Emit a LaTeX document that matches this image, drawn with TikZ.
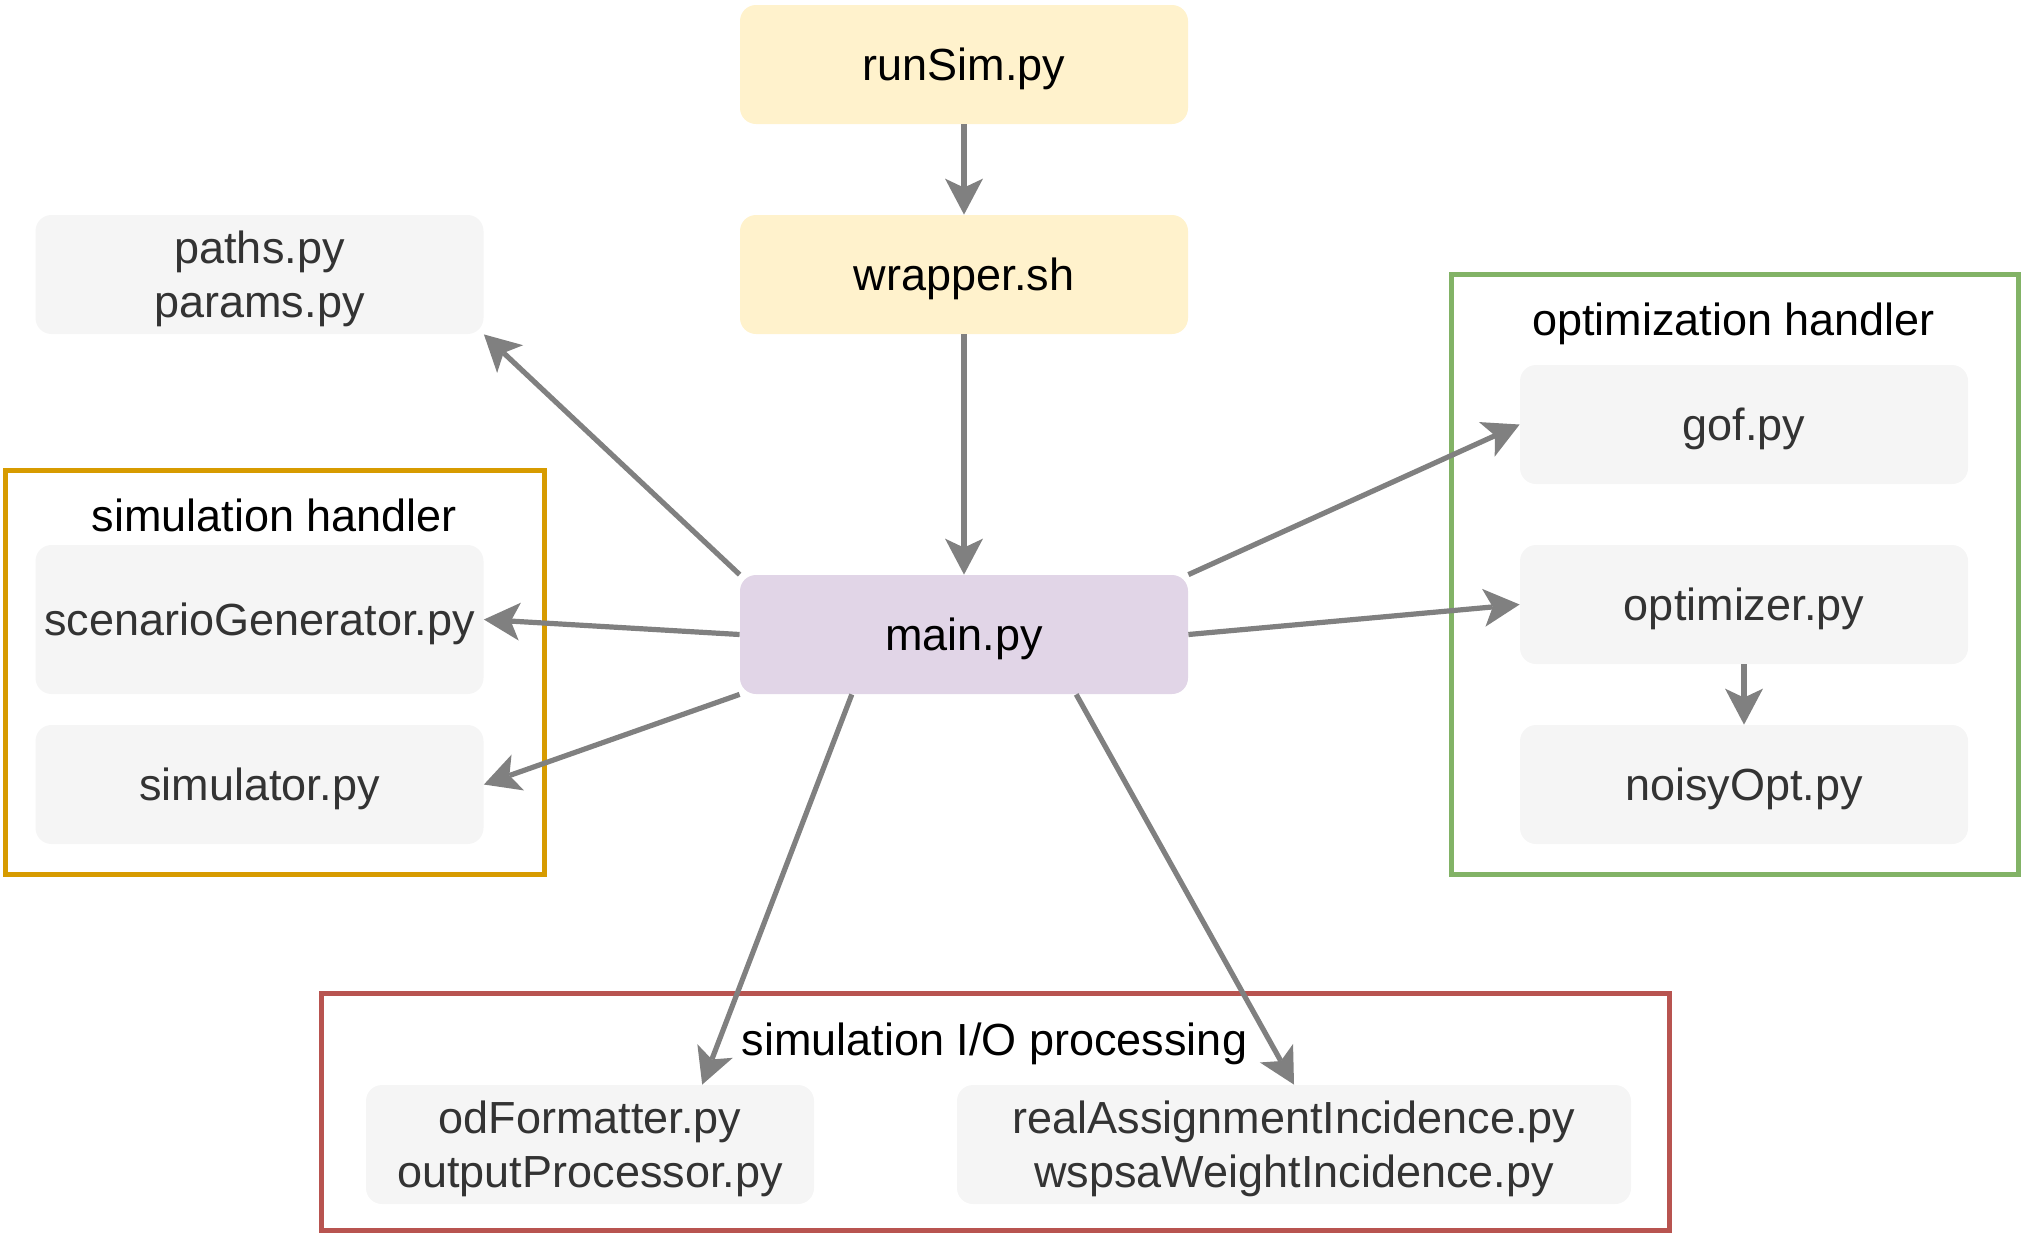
\documentclass[tikz,border=0pt]{standalone}
\usepackage{fontspec}
\setmainfont{Liberation Sans}
\usetikzlibrary{arrows.meta,calc}
\definecolor{yel}{HTML}{FFF2CC}
\definecolor{pur}{HTML}{E1D5E7}
\definecolor{gry}{HTML}{F5F5F5}
\definecolor{txtg}{HTML}{333333}
\definecolor{arrc}{HTML}{808080}
\definecolor{orng}{HTML}{D79B00}
\definecolor{grn}{HTML}{82B366}
\definecolor{redc}{HTML}{B85450}
\begin{document}
\begin{tikzpicture}[x=0.5pt,y=-0.5pt,
  every node/.style={font=\fontsize{22.5pt}{27pt}\selectfont},
  lbl/.style={inner sep=0pt, align=center, yshift=-2pt},
  filebox/.style={rounded corners=8pt, inner sep=0pt, minimum width=224pt, minimum height=59.5pt},
  ybox/.style={filebox, fill=yel, label={[lbl, text=black]center:#1}},
  pbox/.style={filebox, fill=pur, label={[lbl, text=black]center:#1}},
  gbox/.style={filebox, fill=gry, label={[lbl, text=txtg]center:#1}},
  frame/.style={line width=2.5pt},
  ttl/.style={text=black, inner sep=0pt},
  arr/.style={draw=arrc, line width=2.6pt, -{Stealth[length=18pt,width=19pt,inset=4.5pt,line width=0pt]}}
]
\useasboundingbox (0,0) rectangle (2022,1233);
% frames
\draw[frame, draw=orng] (5.5,470) rectangle (544,874.5);
\draw[frame, draw=grn] (1451,274.5) rectangle (2018,874.5);
\draw[frame, draw=redc] (321,993) rectangle (1669.5,1230);
\node[ttl] (tsim) at (274.5,515) {simulation handler};
\node[ttl] (topt) at (1733.5,324) {optimization handler};
\node[ttl] (tio) at (994.5,1044) {simulation I/O processing};
% nodes
\node[ybox={runSim.py}] (runsim) at (964,64.5) {};
\node[ybox={wrapper.sh}] (wrap) at (964,274.5) {};
\node[gbox={paths.py\\params.py}] (paths) at (259.5,274.5) {};
\node[pbox={main.py}] (main) at (964,634.5) {};
\node[gbox={scenarioGenerator.py}, minimum height=74.5pt] (scen) at (259.5,619.5) {};
\node[gbox={simulator.py}] (simr) at (259.5,784.5) {};
\node[gbox={gof.py}] (gof) at (1744,424.5) {};
\node[gbox={optimizer.py}] (opt) at (1744,604.5) {};
\node[gbox={noisyOpt.py}] (noisy) at (1744,784.5) {};
\node[gbox={odFormatter.py\\outputProcessor.py}] (odf) at (590,1144.5) {};
\node[gbox={realAssignmentIncidence.py\\wspsaWeightIncidence.py}, minimum width=337pt] (real) at (1294,1144.5) {};
% connectors
\draw[arr] (runsim.south) -- (wrap.north);
\draw[arr] (wrap.south) -- (main.north);
\draw[arr] (main.north west) -- (paths.south east);
\draw[arr] (main.west) -- (scen.east);
\draw[arr] (main.south west) -- (simr.east);
\draw[arr] ($(main.south west)!0.25!(main.south east)$) -- ($(odf.north west)!0.75!(odf.north east)$);
\draw[arr] ($(main.south west)!0.75!(main.south east)$) -- (real.north);
\draw[arr] (main.north east) -- (gof.west);
\draw[arr] (main.east) -- (opt.west);
\draw[arr] (opt.south) -- (noisy.north);
\end{tikzpicture}
\end{document}
